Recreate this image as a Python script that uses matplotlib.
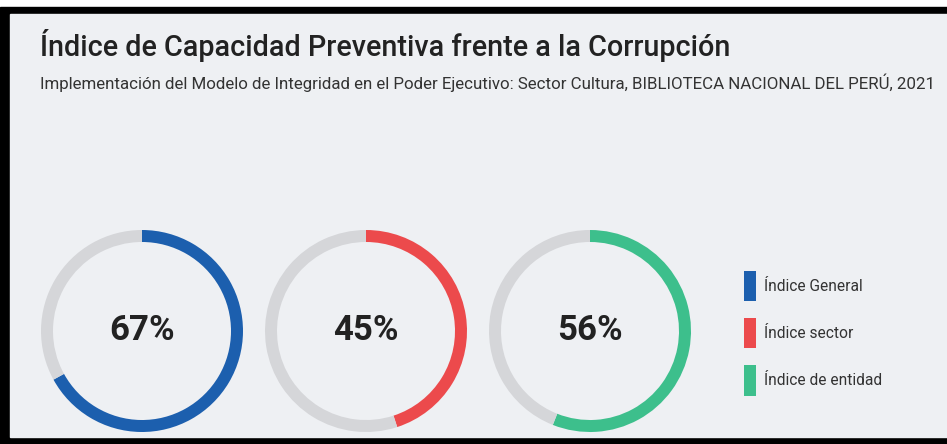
import matplotlib.pyplot as plt
from matplotlib.patches import Rectangle, Patch

# data
labels = ['Índice General', 'Índice sector', 'Índice de entidad']
values = [67, 45, 56]
colors = ['#1c5fae', '#ec4a4c', '#3dbf8c']
ring_grey = '#d5d6d9'
bg = '#eef0f3'

title = 'Índice de Capacidad Preventiva frente a la Corrupción'
subtitle = ('Implementación del Modelo de Integridad en el Poder Ejecutivo: '
            'Sector Cultura, BIBLIOTECA NACIONAL DEL PERÚ, 2021')

W, H = 947, 444
fig = plt.figure(figsize=(W / 100, H / 100), dpi=100, facecolor='white')
ax = fig.add_axes([0, 0, 1, 1])

# screenshot frame (pixel coords, y measured from top)
def py(y):
    return H - y

ax.add_patch(Rectangle((0, 0), W, py(7), color='black', zorder=0))
ax.add_patch(Rectangle((10, py(437)), W - 10, 437 - 14, color=bg, zorder=0))

centers_x = [142, 366, 590]
center_y = 331
radius = 101
ring = 12

for cx, v, c in zip(centers_x, values, colors):
    ax.pie([v, 100 - v], colors=[c, ring_grey], startangle=90, counterclock=False,
           radius=radius, center=(cx, py(center_y)), frame=True,
           wedgeprops=dict(width=ring, linewidth=0))
    ax.text(cx, py(center_y), f'{v}%', ha='center', va='center',
            fontsize=25, fontweight='bold', family='Roboto', color='#222222')

ax.set_xlim(0, W)
ax.set_ylim(0, H)
ax.set_aspect('auto')
ax.axis('off')

ax.text(40, py(46), title, ha='left', va='center', fontsize=20.7,
        fontweight='medium', family='Roboto', color='#222222')
ax.text(40, py(83), subtitle, ha='left', va='center', fontsize=12.15,
        family='Roboto', color='#333333')

handles = [Patch(facecolor=c, edgecolor='none') for c in colors]
leg = ax.legend(handles, labels, loc='upper left', bbox_to_anchor=(744 / W, 1 - 271 / H),
                bbox_transform=fig.transFigure, frameon=False,
                handlelength=0.8, handleheight=2.6, handletextpad=0.5,
                labelspacing=1.1, borderpad=0, borderaxespad=0,
                prop={'family': 'Roboto', 'size': 11.2})
for t in leg.get_texts():
    t.set_color('#333333')

fig.savefig('out.png', dpi=100, facecolor='white')
